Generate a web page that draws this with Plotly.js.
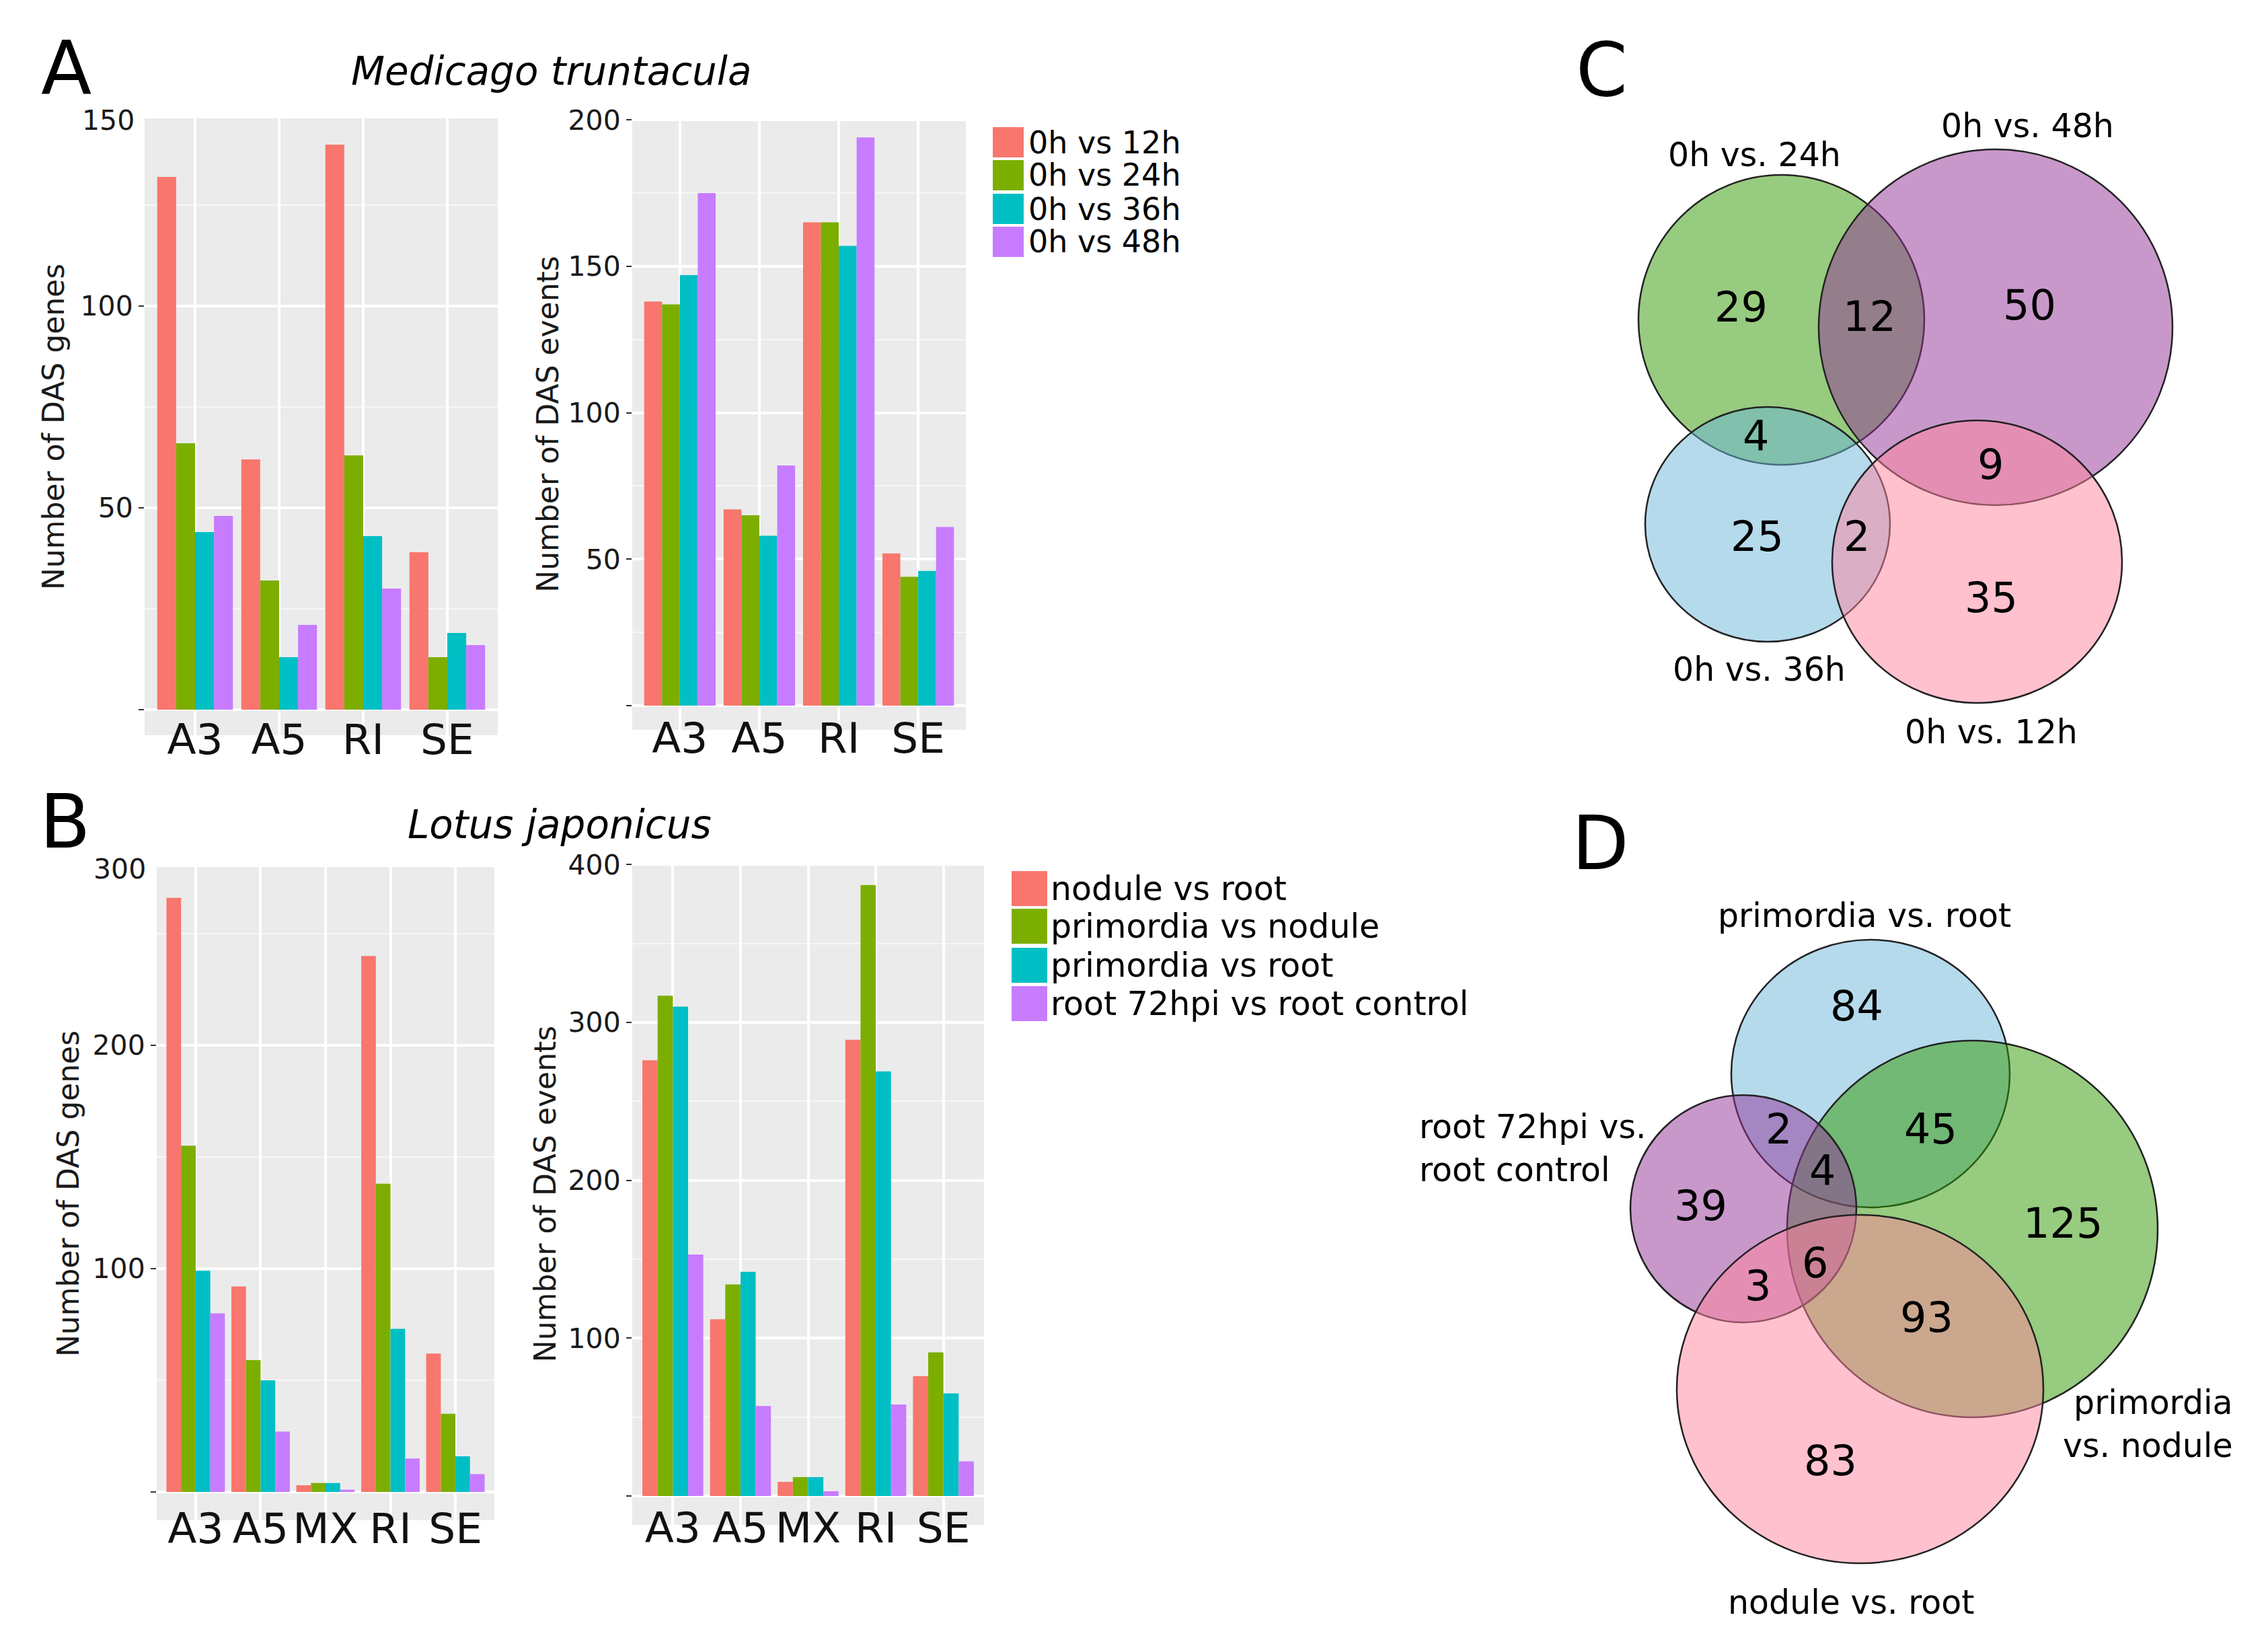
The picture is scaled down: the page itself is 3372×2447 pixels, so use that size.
<!DOCTYPE html>
<html><head><meta charset="utf-8">
<script src="https://cdn.plot.ly/plotly-3.0.1.min.js"></script>
<style>html,body{margin:0;padding:0;background:#fff}</style>
</head><body><div id="chart" style="width:3372px;height:2447px"></div>
<script>
// ---------------- data ----------------
const seriesColors = ['#F8766D', '#7CAE00', '#00BFC4', '#C77CFF'];

const medicagoCategories = ['A3', 'A5', 'RI', 'SE'];
const medicagoSeries = ['0h vs 12h', '0h vs 24h', '0h vs 36h', '0h vs 48h'];
const medicagoGenes12h = [132, 62, 140, 39];
const medicagoGenes24h = [66, 32, 63, 13];
const medicagoGenes36h = [44, 13, 43, 19];
const medicagoGenes48h = [48, 21, 30, 16];
const medicagoEvents12h = [138, 67, 165, 52];
const medicagoEvents24h = [137, 65, 165, 44];
const medicagoEvents36h = [147, 58, 157, 46];
const medicagoEvents48h = [175, 82, 194, 61];

const lotusCategories = ['A3', 'A5', 'MX', 'RI', 'SE'];
const lotusSeries = ['nodule vs root', 'primordia vs nodule', 'primordia vs root', 'root 72hpi vs root control'];
const lotusGenesNodRoot = [266, 92, 3, 240, 62];
const lotusGenesPrimNod = [155, 59, 4, 138, 35];
const lotusGenesPrimRoot = [99, 50, 4, 73, 16];
const lotusGenesRoot72 = [80, 27, 1, 15, 8];
const lotusEventsNodRoot = [276, 112, 9, 289, 76];
const lotusEventsPrimNod = [317, 134, 12, 387, 91];
const lotusEventsPrimRoot = [310, 142, 12, 269, 65];
const lotusEventsRoot72 = [153, 57, 3, 58, 22];

const vennCSetNames = ['0h vs. 24h', '0h vs. 48h', '0h vs. 36h', '0h vs. 12h'];
const vennCCounts = [29, 12, 50, 4, 9, 25, 2, 35];
const vennDSetNames = ['primordia vs. root', 'primordia vs. nodule', 'root 72hpi vs. root control', 'nodule vs. root'];
const vennDCounts = [84, 2, 45, 4, 39, 125, 6, 3, 93, 83];

// ---------------- layout helpers ----------------
const W = 3372, H = 2447;
const FONT = 'DejaVu Sans';
const px = x => x / W;
const py = y => 1 - y / H;

const traces = [];
function addBars(cats, names, seriesArrays, xa, ya) {
  seriesArrays.forEach((vals, i) => {
    traces.push({
      type: 'bar', x: cats, y: vals, name: names[i],
      marker: {color: seriesColors[i], line: {width: 0}},
      xaxis: xa, yaxis: ya, showlegend: false, hoverinfo: 'skip'
    });
  });
}
addBars(medicagoCategories, medicagoSeries,
  [medicagoGenes12h, medicagoGenes24h, medicagoGenes36h, medicagoGenes48h], 'x', 'y');
addBars(medicagoCategories, medicagoSeries,
  [medicagoEvents12h, medicagoEvents24h, medicagoEvents36h, medicagoEvents48h], 'x2', 'y2');
addBars(lotusCategories, lotusSeries,
  [lotusGenesNodRoot, lotusGenesPrimNod, lotusGenesPrimRoot, lotusGenesRoot72], 'x3', 'y3');
addBars(lotusCategories, lotusSeries,
  [lotusEventsNodRoot, lotusEventsPrimNod, lotusEventsPrimRoot, lotusEventsRoot72], 'x4', 'y4');

function xAxis(x0, x1, ncat, anchor, standoff) {
  return {
    domain: [px(x0), px(x1)], anchor: anchor, type: 'category',
    range: [-0.6, ncat - 0.4], showgrid: true, gridcolor: '#FFFFFF', gridwidth: 4,
    zeroline: false, showline: false, ticks: '',
    tickfont: {family: FONT, size: 63, color: '#111'},
    ticklabelstandoff: standoff, fixedrange: true
  };
}
function yAxis(y0, y1, range, tickvals, minorDtick, anchor, title, standoff) {
  return {
    domain: [py(y1), py(y0)], anchor: anchor, range: range,
    tickmode: 'array', tickvals: tickvals,
    ticktext: tickvals.map(v => v === 0 ? '' : String(v)),
    ticks: 'outside', ticklen: 8, tickwidth: 2, tickcolor: '#333',
    tickfont: {family: FONT, size: 41, color: '#1a1a1a'},
    showgrid: true, gridcolor: '#FFFFFF', gridwidth: 4,
    minor: {dtick: minorDtick, tick0: 0, showgrid: true, gridcolor: '#F7F7F7', gridwidth: 2, ticks: ''},
    zeroline: false, showline: false, fixedrange: true,
    title: {text: title, font: {family: FONT, size: 44, color: '#1a1a1a'}, standoff: standoff}
  };
}

const annotations = [];
const shapes = [];
function txt(text, x, y, size, opts) {
  annotations.push(Object.assign({
    text: text, x: px(x), y: py(y), xref: 'paper', yref: 'paper',
    showarrow: false, xanchor: 'center', yanchor: 'middle',
    font: {family: FONT, size: size, color: '#000'}
  }, opts || {}));
}

// panel letters and titles
txt('A', 98, 102, 110);
txt('B', 96, 1222, 110);
txt('C', 2381, 104, 110);
txt('D', 2379, 1254, 110);
txt('<i>Medicago truntacula</i>', 820, 106, 58);
txt('<i>Lotus japonicus</i>', 832, 1226, 58);
// top axis labels of the left panels
txt('150', 202, 179, 41, {xanchor: 'right', font: {family: FONT, size: 41, color: '#1a1a1a'}});
txt('300', 219, 1292, 41, {xanchor: 'right', font: {family: FONT, size: 41, color: '#1a1a1a'}});

// custom legends
function legend(names, x0, x1, centers, half, textX, fsize) {
  names.forEach((n, i) => {
    shapes.push({type: 'rect', xref: 'paper', yref: 'paper',
      x0: px(x0), x1: px(x1), y0: py(centers[i] + half), y1: py(centers[i] - half),
      fillcolor: seriesColors[i], line: {width: 0}});
    txt(n, textX, centers[i], fsize, {xanchor: 'left', borderpad: 0});
  });
}
legend(medicagoSeries, 1476, 1522, [211.5, 260.5, 310.5, 359.5], 22.5, 1528, 46);
legend(lotusSeries, 1504, 1557, [1321, 1377, 1435, 1492], 26, 1561, 49);

// Venn diagrams
const vennFill = {
  green: 'rgba(47,151,0,0.5)', purple: 'rgba(147,49,151,0.5)',
  blue: 'rgba(105,181,217,0.5)', pink: 'rgba(255,131,157,0.5)'
};
function ell(x0, x1, y0, y1, fill) {
  shapes.push({type: 'circle', xref: 'paper', yref: 'paper',
    x0: px(x0), x1: px(x1), y0: py(y1), y1: py(y0),
    fillcolor: fill, line: {color: '#222', width: 2.5}, layer: 'above'});
}
// C
ell(2436, 2861, 260, 691, vennFill.green);
ell(2704, 3230, 222, 751, vennFill.purple);
ell(2446, 2810, 605, 954, vennFill.blue);
ell(2724, 3155, 625, 1045, vennFill.pink);
txt(vennCSetNames[0], 2608, 231, 49);
txt(vennCSetNames[1], 3014, 188, 49);
txt(vennCSetNames[2], 2615, 995, 49);
txt(vennCSetNames[3], 2960, 1089, 49);
const vennCPos = [[2588, 456], [2779, 470], [3017, 453], [2610, 648], [2959, 691], [2612, 797], [2760, 797], [2960, 889]];
vennCCounts.forEach((c, i) => txt(String(c), vennCPos[i][0], vennCPos[i][1], 62));
// D
ell(2574, 2988, 1397, 1795, vennFill.blue);
ell(2657, 3208, 1547, 2107, vennFill.green);
ell(2424, 2760, 1628, 1966, vennFill.purple);
ell(2493, 3038, 1806, 2324, vennFill.pink);
txt(vennDSetNames[0], 2772, 1361, 49);
txt('primordia<br>vs. nodule', 3322, 2117, 49, {xanchor: 'right', align: 'right'});
txt('root 72hpi vs.<br>root control', 2108, 1707, 49, {xanchor: 'left', align: 'left'});
txt(vennDSetNames[3], 2752, 2382, 49);
const vennDPos = [[2760, 1495], [2644, 1678], [2870, 1678], [2709, 1740], [2528, 1792], [3067, 1818], [2698, 1877], [2613, 1911], [2864, 1958], [2721, 2171]];
vennDCounts.forEach((c, i) => txt(String(c), vennDPos[i][0], vennDPos[i][1], 62));

const layout = {
  width: W, height: H, margin: {l: 0, r: 0, t: 0, b: 0},
  paper_bgcolor: '#FFFFFF', plot_bgcolor: '#EBEBEB',
  barmode: 'group', bargap: 0.1, bargroupgap: 0, showlegend: false,
  font: {family: FONT},
  xaxis: xAxis(215, 740, 4, 'y', -36),
  yaxis: yAxis(176, 1093, [-6.33, 146.5], [0, 50, 100], 25, 'x', 'Number of DAS genes', 10),
  xaxis2: xAxis(940, 1436, 4, 'y2', -30),
  yaxis2: yAxis(176, 1085, [-8.25, 200.5], [0, 50, 100, 150, 200], 25, 'x2', 'Number of DAS events', 0),
  xaxis3: xAxis(233, 735, 5, 'y3', -30),
  yaxis3: yAxis(1289, 2260, [-12.65, 279.8], [0, 100, 200], 50, 'x3', 'Number of DAS genes', 6),
  xaxis4: xAxis(940, 1463, 5, 'y4', -38),
  yaxis4: yAxis(1283, 2267, [-18.3, 401], [0, 100, 200, 300, 400], 50, 'x4', 'Number of DAS events', 4),
  annotations: annotations, shapes: shapes
};
Plotly.newPlot('chart', traces, layout, {staticPlot: true, displayModeBar: false});
</script></body></html>
